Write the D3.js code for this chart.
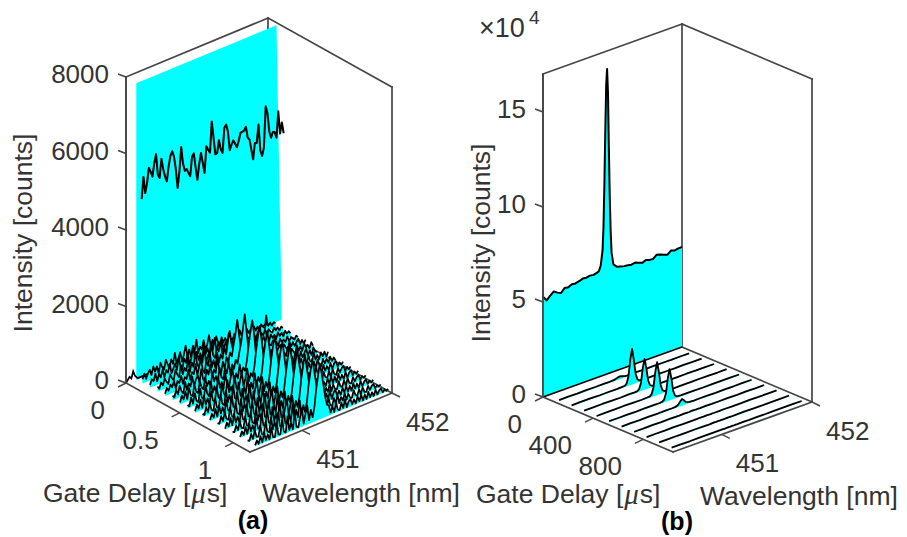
<!DOCTYPE html>
<html>
<head>
<meta charset="utf-8">
<style>
  body { margin: 0; background: white; }
  text { font-family: "Liberation Sans", Arial, sans-serif; fill: #333; }
</style>
<script src="https://d3js.org/d3.v7.min.js"></script>
</head>
<body>
<div id="chart"></div>
<script>
// panel (a): curtain at gate delay ~0
let curtainWlA = [450.52, 450.52, 452.08, 452.14];
let curtainCountsA = [0, 7760, 7750, 0];
let topWlA = [450.58,450.60,450.62,450.64,450.66,450.68,450.70,450.72,450.74,450.76,450.78,450.80,450.82,450.84,450.86,450.88,450.90,450.92,450.94,450.96,450.98,451.00,451.02,451.04,451.06,451.08,451.10,451.12,451.14,451.16,451.18,451.20,451.22,451.24,451.26,451.28,451.30,451.32,451.34,451.36,451.38,451.40,451.42,451.44,451.46,451.48,451.50,451.52,451.54,451.56,451.58,451.60,451.62,451.64,451.66,451.68,451.70,451.72,451.74,451.76,451.78,451.80,451.82,451.84,451.86,451.88,451.90,451.92,451.94,451.96,451.98,452.00,452.02,452.04,452.06,452.08,452.10,452.12,452.14,452.16];
let topCountsA = [4670,5230,4790,5030,5410,5290,5140,5470,5690,5130,5030,5510,5220,5010,4860,5230,5490,5590,5430,5080,4570,4980,5600,5150,4940,4970,4850,4740,5230,5300,4920,4570,4960,5230,4950,4670,5350,5240,5140,5940,5490,5040,5050,5370,5110,5000,5640,5700,5500,4990,5120,5210,5100,4990,5140,5330,5340,5350,5430,5120,5060,4780,4500,4910,4890,5350,4660,4490,4690,5750,5540,5050,4870,5000,4980,4810,5480,4880,5150,4850];
let edgeWlA = [450.42,450.46,450.48,450.50,450.52,450.55,451.95,451.97,451.98,451.99,452.00];
let edgeCountsA = [0,120,60,230,90,0,0,20,260,40,0];

// floor lines of panel (a), one per gate delay
let delaysA = [0.07,0.14,0.21,0.28,0.35,0.42,0.49,0.56,0.63,0.70,0.77,0.84,0.91,0.98,1.05,1.12];
let wlA = [450.52,450.54,450.56,450.58,450.60,450.62,450.64,450.66,450.68,450.70,450.72,450.74,450.76,450.78,450.80,450.82,450.84,450.86,450.88,450.90,450.92,450.94,450.96,450.98,451.00,451.02,451.04,451.06,451.08,451.10,451.12,451.14,451.16,451.18,451.20,451.22,451.24,451.26,451.28,451.30,451.32,451.34,451.36,451.38,451.40,451.42,451.44,451.46,451.48,451.50,451.52,451.54,451.56,451.58,451.60,451.62,451.64,451.66,451.68,451.70,451.72,451.74,451.76,451.78,451.80,451.82,451.84,451.86,451.88,451.90,451.92,451.94,451.96,451.98,452.00];
let floorA1 = [110,240,80,200,280,120,330,170,290,90,350,210,130,370,220,100,320,180,450,150,260,410,140,300,520,230,380,160,430,270,560,190,340,240,470,200,310,540,230,380,170,430,260,120,350,200,290,150,380,220,110,300,250,140,340,190,270,120,300,170,230,100,280,150,240,90,260,170,120,230,140,210,100,180,130];
let floorA2 = [70,200,130,310,90,260,150,340,110,280,190,410,140,250,360,170,480,210,130,390,260,500,180,320,620,250,430,200,350,150,580,280,410,190,520,310,600,220,440,280,500,170,370,240,450,150,320,210,400,130,290,180,350,120,270,200,320,140,260,110,300,170,220,130,280,90,240,160,110,220,130,190,90,170,120];
let floorA3 = [140,60,210,110,270,170,90,320,200,130,380,240,150,450,180,330,230,540,170,400,260,620,300,190,470,280,650,220,420,310,680,340,260,510,390,640,300,470,220,390,280,170,450,250,350,140,300,200,420,160,250,330,130,280,190,370,120,240,170,300,130,210,100,270,160,220,90,250,130,190,80,210,120,160,90];
let floorA4 = [60,190,100,240,150,300,80,260,180,350,120,280,210,430,150,330,260,500,190,390,580,270,170,480,320,620,240,410,180,560,290,480,350,620,420,760,1000,640,430,300,520,210,340,170,410,260,130,310,230,380,150,260,110,320,200,140,290,90,230,170,280,120,210,80,250,140,190,100,230,90,160,120,70,150,100];
let floorA5 = [120,50,240,90,300,140,60,340,110,260,160,400,130,290,370,170,500,220,140,430,280,520,190,350,240,600,300,170,460,260,540,380,620,500,800,1050,1400,1000,620,430,300,500,210,360,150,290,420,180,260,130,340,210,100,330,160,240,90,310,130,220,270,100,250,150,70,260,120,210,90,180,240,80,170,60,140];
let floorA6 = [50,210,90,280,60,330,130,80,360,160,100,390,210,140,430,180,300,130,470,230,350,160,530,260,190,450,300,590,220,480,340,560,440,720,950,1300,1650,1180,760,480,350,240,430,190,350,120,310,400,170,280,100,340,190,130,310,80,270,150,220,110,330,90,240,160,60,280,110,210,70,250,120,170,60,200,90];
let floorA7 = [90,40,250,70,320,110,50,380,130,70,400,170,90,450,140,290,100,490,190,320,130,510,210,100,340,540,170,390,240,590,300,470,360,600,1000,1330,1600,1240,700,420,270,410,180,320,130,400,210,100,310,160,360,90,230,300,120,70,280,140,230,70,310,120,60,260,90,180,280,70,200,50,230,110,70];
let floorA8 = [40,190,70,280,50,340,90,240,60,380,120,70,430,150,90,470,190,110,500,160,290,120,530,210,90,330,560,160,350,590,240,430,320,560,980,1320,1570,1200,760,430,230,380,150,300,100,360,180,90,290,130,350,70,220,280,100,310,60,240,130,260,80,210,50,270,100,60,290,80,180,50,210,90,190,40,150];
let floorA9 = [80,30,220,60,290,90,40,350,100,50,390,130,70,440,110,280,60,490,140,90,510,170,70,340,130,540,100,370,190,580,220,440,290,540,960,1280,1540,1160,740,460,250,370,140,280,90,340,160,80,280,110,360,60,220,170,290,70,230,100,40,270,120,70,230,50,250,90,40,210,70,170,50,190,60,130,30];
let floorA10 = [30,170,50,260,40,320,80,220,50,370,90,40,420,120,70,460,140,60,490,110,280,80,520,140,50,330,550,130,350,580,190,420,250,510,940,1260,1530,1180,780,440,220,350,120,270,70,330,140,60,260,100,340,40,210,270,80,190,50,240,100,250,60,200,40,240,70,170,50,210,40,160,200,40,130,50,110];
let floorA11 = [60,20,200,50,270,70,30,330,80,40,380,100,50,430,90,270,50,480,110,70,500,130,60,320,100,520,80,350,150,560,170,410,230,490,900,1240,1500,1130,730,470,240,330,110,260,60,320,120,50,250,90,320,40,200,100,260,50,200,80,30,240,90,50,210,30,220,70,30,190,50,150,190,30,120,40,90];
let floorA12 = [20,160,40,240,30,300,60,200,30,350,70,30,400,90,50,450,110,40,470,80,260,60,500,100,40,310,530,100,330,560,140,390,210,470,880,1220,1500,1150,760,440,230,310,100,250,50,300,100,40,240,70,300,30,190,240,60,170,40,220,70,230,40,190,30,220,50,160,30,200,30,140,180,30,110,30,90];
let floorA13 = [50,20,180,30,250,50,20,310,60,30,360,80,30,410,70,250,40,460,90,50,480,100,40,300,80,510,60,330,120,540,130,380,190,450,870,1200,1490,1120,790,450,210,300,90,240,50,290,90,30,230,70,290,30,180,60,240,40,190,60,20,220,70,30,190,20,200,50,20,170,40,130,170,20,100,30,80];
let floorA14 = [20,150,30,220,20,280,50,190,20,330,50,20,380,70,40,430,90,30,450,60,240,40,480,80,30,290,500,80,310,530,110,360,180,430,860,1180,1480,1130,800,460,230,280,80,230,40,280,80,30,220,60,270,20,170,220,50,160,30,200,50,210,30,170,20,200,40,150,20,180,20,120,160,20,90,20,70];
let floorA15 = [40,10,170,20,230,40,20,290,50,20,340,60,20,390,60,230,30,440,70,40,460,80,30,280,70,490,50,310,100,520,100,360,160,410,860,1170,1470,1150,820,480,250,270,70,220,40,270,70,20,210,50,260,20,160,50,220,30,170,50,20,200,60,20,170,20,180,40,20,160,30,120,150,20,80,20,60];
let floorA16 = [20,130,20,200,20,260,40,170,20,310,40,20,360,50,30,410,70,20,430,50,220,30,460,60,20,260,480,60,290,500,90,340,130,380,840,1150,1460,1180,860,520,300,260,60,210,30,260,60,20,200,40,250,20,150,200,40,150,20,190,40,200,20,160,20,190,30,140,20,170,20,110,140,20,80,20,50];
let floorSeriesA = [floorA1,floorA2,floorA3,floorA4,floorA5,floorA6,floorA7,floorA8,floorA9,floorA10,floorA11,floorA12,floorA13,floorA14,floorA15,floorA16];

// panel (b)
let topWlB = [450.46,450.50,450.54,450.58,450.62,450.66,450.70,450.74,450.78,450.82,450.86,450.90,450.94,450.98,451.02,451.06,451.08,451.10,451.12,451.13,451.14,451.15,451.16,451.17,451.18,451.19,451.20,451.21,451.22,451.24,451.28,451.32,451.36,451.40,451.44,451.48,451.52,451.56,451.60,451.64,451.68,451.72,451.76,451.80,451.84,451.88,451.92,451.96,452.00];
let topCountsB = [52800,50200,52000,53500,52200,51300,53300,53000,53900,53600,54100,54800,54600,55000,54700,55200,55700,58300,66000,78000,100000,128000,152000,160500,148000,118000,92000,74000,63000,56500,54500,54000,53500,53300,52900,53300,52600,51800,52600,52000,51800,53400,52800,52000,51300,52900,52200,52600,52600];
let edgeWlB = [450.46,452.00];
let edgeCountsB = [0,0];

let delaysB = [100,200,300,400,500,600,700,800,900,1000];
let wlB = [450.50,450.60,450.70,450.80,450.90,451.00,451.06,451.09,451.11,451.13,451.15,451.17,451.19,451.21,451.23,451.25,451.30,451.36,451.44,451.54,451.64,451.74,451.84,451.94];
let floorB1 = [500,620,450,580,520,600,540,620,700,900,1200,1500,1300,900,650,560,500,600,470,560,520,450,530,480];
let floorB2 = [480,560,600,430,550,500,620,700,1600,5000,13500,18700,12500,4800,1700,800,560,480,590,520,440,560,500,470];
let floorB3 = [520,460,580,500,430,590,560,680,1400,4300,11800,16200,11000,4200,1500,760,520,590,460,530,570,470,510,440];
let floorB4 = [450,560,490,600,520,470,610,720,1550,4700,12600,17400,11900,4500,1600,780,600,470,540,490,580,500,430,520];
let floorB5 = [540,480,510,440,590,530,500,690,1450,4400,12000,16500,11300,4300,1550,740,510,580,500,450,530,560,480,460];
let floorB6 = [470,590,430,530,480,610,520,600,800,1400,2600,3500,2500,1300,800,580,470,530,590,440,510,470,550,490];
let floorB7 = [510,450,560,490,540,460,580,520,480,590,620,560,530,600,500,540,590,450,510,570,480,530,460,520];
let floorB8 = [440,530,480,570,450,520,490,560,510,470,540,590,500,450,560,480,520,570,440,500,550,470,510,450];
let floorB9 = [500,470,540,450,560,490,430,530,580,490,520,460,550,510,470,530,450,510,560,480,430,520,490,540];
let floorB10 = [460,520,430,510,470,540,500,450,520,480,440,530,470,510,440,500,540,460,490,430,520,470,510,440];
let floorSeriesB = [floorB1,floorB2,floorB3,floorB4,floorB5,floorB6,floorB7,floorB8,floorB9,floorB10];

// tick values
let zTicksA = [0,2000,4000,6000,8000];
let delayTicksA = [0,0.5,1];
let wlTicksA = [451,452];
let zTicksB = [0,50000,100000,150000];
let delayTicksB = [0,400,800];
let wlTicksB = [451,452];

let boxColor = "#454545";

let svg = d3.select("#chart").append("svg")
    .attr("width", 907)
    .attr("height", 537)
    .style("display", "block");

function drawPanel(p) {
    let g = svg.append("g");

    // oblique box: one linear scale per screen direction
    let wlX = d3.scaleLinear().domain(p.wlDomain).range([0, p.right[0] - p.front[0]]);
    let wlY = d3.scaleLinear().domain(p.wlDomain).range([0, p.right[1] - p.front[1]]);
    let delayX = d3.scaleLinear().domain(p.delayDomain).range([0, p.front[0] - p.left[0]]);
    let delayY = d3.scaleLinear().domain(p.delayDomain).range([0, p.front[1] - p.left[1]]);
    let zY = d3.scaleLinear().domain(p.zDomain).range([0, -p.height]);

    let px = (w, d) => p.left[0] + wlX(w) + delayX(d);
    let py = (w, d, z) => p.left[1] + wlY(w) + delayY(d) + zY(z);

    let wMin = p.wlDomain[0], wMax = p.wlDomain[1];
    let dMin = p.delayDomain[0], dMax = p.delayDomain[1];
    let zMax = p.zDomain[1];

    let edge = (a, b) => g.append("line")
        .attr("x1", px(a[0], a[1])).attr("y1", py(a[0], a[1], a[2]))
        .attr("x2", px(b[0], b[1])).attr("y2", py(b[0], b[1], b[2]))
        .attr("stroke", boxColor)
        .attr("stroke-width", 1.7)
        .attr("stroke-linecap", "square");

    // back of the box
    edge([wMin, dMin, 0], [wMin, dMin, zMax]);
    edge([wMax, dMin, 0], [wMax, dMin, zMax]);
    edge([wMin, dMin, zMax], [wMax, dMin, zMax]);
    edge([wMax, dMin, zMax], [wMax, dMax, zMax]);
    edge([wMax, dMax, 0], [wMax, dMax, zMax]);
    edge([wMax, dMin, 0], [wMax, dMax, 0]);

    let line = d => d3.line()
        .x(q => px(q[0], d))
        .y(q => py(q[0], d, q[1]));
    let area = d => d3.area()
        .x0(q => px(q[0], d)).y0(q => py(q[0], d, 0))
        .x1(q => px(q[0], d)).y1(q => py(q[0], d, q[1]));

    // curtain at the shortest delay
    g.append("path")
        .attr("d", area(p.curtainDelay)(d3.zip(p.curtainWl, p.curtainCounts)))
        .attr("fill", "#00ffff");
    g.append("path")
        .attr("d", line(p.curtainDelay)(d3.zip(p.topWl, p.topCounts)))
        .attr("fill", "none")
        .attr("stroke", "black")
        .attr("stroke-width", p.topWidth)
        .attr("stroke-linejoin", "round");
    g.append("path")
        .attr("d", line(dMin)(d3.zip(p.edgeWl, p.edgeCounts)))
        .attr("fill", "none")
        .attr("stroke", "black")
        .attr("stroke-width", 1.7);

    // floor lines, back to front
    p.delays.forEach((d, i) => {
        let pts = d3.zip(p.wl, p.series[i]);
        g.append("path").attr("d", area(d)(pts)).attr("fill", "#00ffff");
        g.append("path").attr("d", line(d)(pts))
            .attr("fill", "none")
            .attr("stroke", "black")
            .attr("stroke-width", p.lineWidth)
            .attr("stroke-linejoin", "round");
    });

    // front of the box
    edge([wMin, dMin, 0], [wMin, dMax, 0]);
    edge([wMin, dMax, 0], [wMax, dMax, 0]);
    edge([wMin, dMin, 0], [wMin, dMin, zMax]);

    let tick = (x, y, dx, dy) => g.append("line")
        .attr("x1", x).attr("y1", y).attr("x2", x + dx).attr("y2", y + dy)
        .attr("stroke", boxColor).attr("stroke-width", 1.4);

    let label = (x, y, str, anchor) => g.append("text")
        .attr("x", x).attr("y", y)
        .attr("text-anchor", anchor)
        .attr("dominant-baseline", "central")
        .attr("font-size", 26)
        .text(str);

    p.zTicks.forEach(z => {
        let x = px(wMin, dMin), y = py(wMin, dMin, z);
        tick(x, y, -8, -3);
        label(x - 17, y - 3, p.zFormat(z), "end");
    });
    p.delayTicks.forEach(d => {
        let x = px(wMin, d), y = py(wMin, d, 0);
        tick(x, y, -8, 4);
        label(x - 21, y + 27, d, "end");
    });
    p.wlTicks.forEach(w => {
        let x = px(w, dMax), y = py(w, dMax, 0);
        tick(x, y, 8, 4);
        label(x + 14, y + 29, w, "start");
    });

    // axis titles
    g.append("text")
        .attr("transform", `translate(${p.zTitle[0]},${p.zTitle[1]}) rotate(-90)`)
        .attr("text-anchor", "middle")
        .attr("dominant-baseline", "central")
        .attr("font-size", 26.5)
        .text("Intensity [counts]");

    let gate = g.append("text")
        .attr("x", p.gateTitle[0]).attr("y", p.gateTitle[1])
        .attr("dominant-baseline", "central")
        .attr("font-size", 26.5)
        .text("Gate Delay [");
    gate.append("tspan").attr("font-style", "italic").attr("font-family", "Liberation Serif").attr("dx", 1).attr("font-size", 29).text("\u03bc");
    gate.append("tspan").attr("dx", 1).text("s]");

    g.append("text")
        .attr("x", p.wlTitle[0]).attr("y", p.wlTitle[1])
        .attr("dominant-baseline", "central")
        .attr("font-size", 26.5)
        .text("Wavelength [nm]");

    g.append("text")
        .attr("x", p.tag[0]).attr("y", p.tag[1])
        .attr("text-anchor", "middle")
        .attr("dominant-baseline", "central")
        .attr("font-size", 25)
        .attr("font-weight", "bold")
        .style("fill", "black")
        .text(p.tagText);
}

drawPanel({
    left: [126, 383], front: [250, 452], right: [392, 393], height: 306,
    wlDomain: [450.42, 452], delayDomain: [0, 1.156], zDomain: [0, 8000],
    curtainDelay: 0.012, curtainWl: curtainWlA, curtainCounts: curtainCountsA,
    topWl: topWlA, topCounts: topCountsA, edgeWl: edgeWlA, edgeCounts: edgeCountsA,
    delays: delaysA, wl: wlA, series: floorSeriesA, lineWidth: 1.7, topWidth: 2,
    zTicks: zTicksA, delayTicks: delayTicksA, wlTicks: wlTicksA, zFormat: z => z,
    zTitle: [23, 233], gateTitle: [43, 493], wlTitle: [262, 493], tag: [253, 520], tagText: "(a)"
});

drawPanel({
    left: [543, 397], front: [673, 452], right: [812, 402], height: 323,
    wlDomain: [450.46, 452], delayDomain: [0, 1040], zDomain: [0, 170000],
    curtainDelay: 0, curtainWl: topWlB, curtainCounts: topCountsB,
    topWl: topWlB, topCounts: topCountsB, edgeWl: edgeWlB, edgeCounts: edgeCountsB,
    delays: delaysB, wl: wlB, series: floorSeriesB, lineWidth: 1.8, topWidth: 2,
    zTicks: zTicksB, delayTicks: delayTicksB, wlTicks: wlTicksB, zFormat: z => z / 10000,
    zTitle: [481, 243], gateTitle: [476, 494], wlTitle: [700, 496], tag: [677, 521], tagText: "(b)"
});

// exponent of panel (b)
svg.append("text").attr("x", 479).attr("y", 28)
    .attr("dominant-baseline", "central")
    .attr("font-size", 27)
    .text("\u00d710");
svg.append("text").attr("x", 529).attr("y", 17)
    .attr("dominant-baseline", "central")
    .attr("font-size", 19)
    .text("4");
</script>
</body>
</html>
